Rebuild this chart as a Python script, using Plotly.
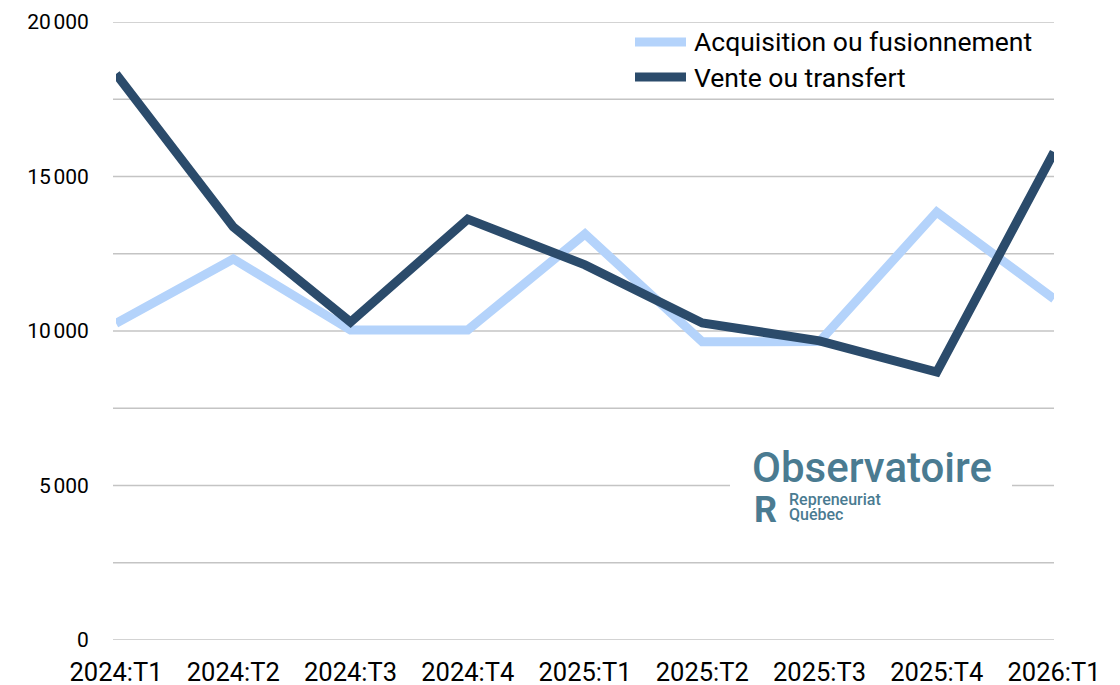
import plotly.graph_objects as go

categories = ["2024:T1", "2024:T2", "2024:T3", "2024:T4", "2025:T1",
              "2025:T2", "2025:T3", "2025:T4", "2026:T1"]
acquisition = [10250, 12330, 10030, 10030, 13140, 9650, 9660, 13850, 11040]
vente = [18320, 13370, 10290, 13620, 12140, 10260, 9680, 8670, 15790]
series_names = ["Acquisition ou fusionnement", "Vente ou transfert"]
series_colors = ["#b4d3fb", "#2b4b6b"]
tick_vals = [0, 5000, 10000, 15000, 20000]
tick_text = ["0", "5\u202f000", "10\u202f000", "15\u202f000", "20\u202f000"]

FONT = "Roboto"
LOGO = "#4a7b91"

# page body has an 8px margin: plot area should sit at x 116..1054, y 22..640
W, H = 1112, 677
L, T, R, B = 108, 14, 66, 45
PW, PH = W - L - R, H - T - B


def px(xabs):
    return (xabs - 8 - L) / PW


def py(yabs):
    return (H - B - (yabs - 8)) / PH


fig = go.Figure()
for name, vals, col in zip(series_names, [acquisition, vente], series_colors):
    fig.add_trace(go.Scatter(x=list(range(len(categories))), y=vals, mode="lines",
                             name=name, line=dict(color=col, width=9), showlegend=False))

fig.update_layout(
    width=W, height=H,
    margin=dict(l=L, r=R, t=T, b=B, autoexpand=False),
    paper_bgcolor="white", plot_bgcolor="white",
    font=dict(family=FONT, color="black"),
    showlegend=False,
    xaxis=dict(range=[0, 8], tickmode="array", tickvals=list(range(len(categories))),
               ticktext=categories, showgrid=False, zeroline=False, showline=False,
               tickfont=dict(size=25.5, family=FONT), ticks="outside", ticklen=9,
               tickcolor="rgba(0,0,0,0)", automargin=False),
    yaxis=dict(range=[0, 20000], tickmode="array", tickvals=tick_vals, ticktext=tick_text,
               showgrid=False, zeroline=False, showline=False,
               tickfont=dict(size=21, family=FONT), ticks="outside", ticklen=22,
               tickcolor="rgba(0,0,0,0)", automargin=False),
)

# gridlines every 2500
for v in range(0, 20001, 2500):
    fig.add_shape(type="line", xref="paper", yref="y", x0=px(113), x1=1, y0=v, y1=v,
                  line=dict(color="#c4c4c4", width=1.3), layer="below")

# custom legend (long line samples)
for i, (name, col) in enumerate(zip(series_names, series_colors)):
    yy = 42 + 35 * i
    fig.add_shape(type="line", xref="paper", yref="paper", x0=px(635), x1=px(686),
                  y0=py(yy), y1=py(yy), line=dict(color=col, width=9))
    fig.add_annotation(xref="paper", yref="paper", x=px(692), y=py(yy), text=name,
                       showarrow=False, xanchor="left", yanchor="middle",
                       font=dict(size=26.5, family=FONT, color="black"))

# logo background
fig.add_shape(type="rect", xref="paper", yref="paper", x0=px(730), x1=px(1012),
              y0=py(530), y1=py(445), fillcolor="white", line=dict(width=0), layer="above")
fig.add_annotation(xref="paper", yref="paper", x=px(872), y=py(467), text="Observatoire",
                   showarrow=False, font=dict(size=42, color=LOGO, family=FONT, weight=500),
                   xanchor="center", yanchor="middle", borderpad=0)
fig.add_annotation(xref="paper", yref="paper", x=px(765), y=py(510), text="<b>R</b>",
                   showarrow=False, font=dict(size=36, color=LOGO, family=FONT, weight=900),
                   xanchor="center", yanchor="middle", borderpad=0)
fig.add_annotation(xref="paper", yref="paper", x=px(788), y=py(499), text="Repreneuriat",
                   showarrow=False, font=dict(size=16, color=LOGO, family=FONT, weight=500),
                   xanchor="left", yanchor="middle", borderpad=0)
fig.add_annotation(xref="paper", yref="paper", x=px(788), y=py(514), text="Québec",
                   showarrow=False, font=dict(size=16, color=LOGO, family=FONT, weight=500),
                   xanchor="left", yanchor="middle", borderpad=0)

fig.write_html("out.html")
